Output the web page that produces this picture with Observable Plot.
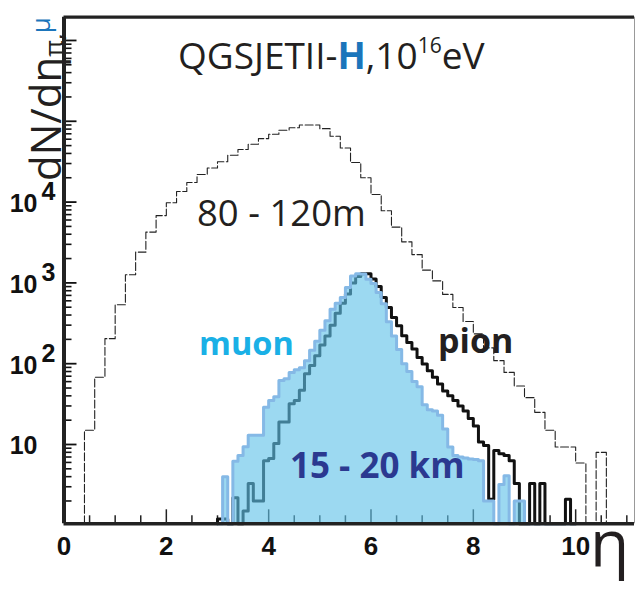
<!DOCTYPE html>
<html><head><meta charset="utf-8">
<script src="https://cdn.jsdelivr.net/npm/d3@7"></script>
<script src="https://cdn.jsdelivr.net/npm/@observablehq/plot@0.6"></script>
<style>
html,body{margin:0;padding:0;background:#fff;}
#chart{position:relative;width:635px;height:592px;}
svg{display:block;}
</style></head><body><div id="chart"></div>
<script>
// ---- data: 80-120 m (dashed), bins of 0.2 in eta starting at 0.4
const wideStart = 0.4;
const wideWidth = 0.2;
const wideValues = [15,68,204,537,1260,2400,4250,6800,9800,13500,17500,21900,26400,31600,38000,44700,52000,61000,69000,77500,83000,90000,90000,81000,65300,46700,30900,20000,12400,7800,4900,3220,2240,1440,1060,720,495,333,234,157,109,78,53,38,25,15,9.3,9.3,5.9,0,8];

// ---- data: 15-20 km, bins of 0.1 in eta starting at 3.0
const farStart = 3.0;
const farWidth = 0.1;
const muonValues = [0,4,0,6.2,7.3,9.4,13,13,13,29,35,39,62,65,78,84,89,109,147,190,260,339,473,560,659,875,1220,1300,1290,1110,980,760,550,330,220,150,100,80,60,52,31,27,26,23,15.5,9.3,7.3,7.0,6.8,6.6,6.5,6.3,2.0,2.0,0,3.2,4.1,0,2.0,2.0,0,0,0,0,0,0,0,0,0,0];
const pionValues = [1.2,1.2,0,2.2,0,1.5,3.3,2.0,2.0,6.3,6.7,10.3,19,19,32,35,47,75,95,125,170,220,300,420,560,730,1000,1200,1300,1300,1120,900,660,495,372,295,222,183,152,119,99,82,68,56,46,40,35,30,26,21,17,10.7,9.7,2.1,8.4,7.7,7.3,6.3,3.3,0,0,3.3,0,3.3,0,0,0,0,2.1,0];

// ---- ticks and labels
const xLabelTicks = [0, 2, 4, 6, 8, 10];
const xMajorTicks = [2, 4, 6, 8, 10];
const xMinorTicks = d3.range(0.5, 11.01, 0.5).filter(v => v % 2 !== 0);
const yDecades = [10, 100, 1000, 10000, 100000, 1000000];
const yLabelTicks = [10, 100, 1000, 10000];
const yMinorTicks = d3.range(0, 6).flatMap(k => d3.range(2, 10).map(m => m * 10 ** k)).filter(v => v > 1.05 && v < 1.9e6);

const W = 635, H = 592, mL = 63.5, mR = 1, mT = 16.7, mB = 68.7;
const xDomain = [0, 11.15];
const yDomain = [10 ** 0.0186, 10 ** 6.288];
const yFloor = yDomain[0];

// scales (used to size the inner tick marks)
const xs = Plot.scale({x: {domain: xDomain, range: [mL, W - mR]}});
const ys = Plot.scale({y: {type: "log", domain: yDomain, range: [H - mB, mT]}});
const xTickMinorEnd = xs.invert(mL + 8);
const xTickMajorEnd = xs.invert(mL + 13);
const yTickMinorEnd = ys.invert(H - mB - 8);
const yTickMajorEnd = ys.invert(H - mB - 14);

function histPoints(start, width, values) {
  const pts = [{x: start, y: yFloor}];
  values.forEach((v, i) => pts.push({x: start + i * width, y: Math.max(v, yFloor)}));
  const end = start + values.length * width;
  pts.push({x: end, y: Math.max(values[values.length - 1], yFloor)});
  pts.push({x: end, y: yFloor});
  return pts;
}
const widePts = histPoints(wideStart, wideWidth, wideValues);
const muonPts = histPoints(farStart, farWidth, muonValues);
const pionPts = histPoints(farStart, farWidth, pionValues);

const tickFont = "Liberation Sans, Arial, sans-serif";

const chart = Plot.plot({
  width: W, height: H,
  marginLeft: mL, marginRight: mR, marginTop: mT, marginBottom: mB,
  x: {domain: xDomain, axis: null},
  y: {type: "log", domain: yDomain, axis: null},
  style: {background: "transparent", overflow: "visible"},
  marks: [
    // inner ticks
    Plot.ruleX(xMinorTicks, {x: d => d, y1: yFloor, y2: yTickMinorEnd, stroke: "#222", strokeWidth: 1.5}),
    Plot.ruleX(xMajorTicks, {x: d => d, y1: yFloor, y2: yTickMajorEnd, stroke: "#222", strokeWidth: 1.5}),
    Plot.ruleY(yMinorTicks, {y: d => d, x1: 0, x2: xTickMinorEnd, stroke: "#111", strokeWidth: 1.6}),
    Plot.ruleY(yDecades, {y: d => d, x1: 0, x2: xTickMajorEnd, stroke: "#111", strokeWidth: 1.8}),
    // 80-120 m dashed histogram
    Plot.line(widePts, {x: "x", y: "y", curve: "step-after", stroke: "#222", strokeWidth: 1.1, strokeDasharray: "8,2.5"}),
    // pion 15-20 km
    Plot.line(pionPts, {x: "x", y: "y", curve: "step-after", stroke: "#111", strokeWidth: 3}),
    // muon 15-20 km
    Plot.areaY(muonPts, {x: "x", y1: yFloor, y2: "y", curve: "step-after", fill: "#5fc2e8", fillOpacity: 0.62}),
    Plot.line(muonPts, {x: "x", y: "y", curve: "step-after", stroke: "#85b9e6", strokeWidth: 3}),
    // frame
    Plot.ruleX([xDomain[1]], {stroke: "#999", strokeWidth: 1}),
    Plot.ruleY([yDomain[1]], {stroke: "#222", strokeWidth: 3.3}),
    Plot.ruleY([yFloor], {stroke: "#222", strokeWidth: 3.5}),
    Plot.ruleX([0], {stroke: "#222", strokeWidth: 4}),
    // tick labels
    Plot.text(xLabelTicks, {x: d => d, text: d => String(d), frameAnchor: "bottom", dy: 31, fontSize: 26, fontWeight: "bold", fontFamily: tickFont, fill: "#111"}),
    Plot.text(yLabelTicks, {y: d => d, text: () => "10", frameAnchor: "left", textAnchor: "end", dx: -26.5, dy: 2, fontSize: 25, fontWeight: "bold", fontFamily: tickFont, fill: "#111"}),
    Plot.text(yLabelTicks.filter(d => d > 10), {y: d => d, text: d => String(Math.round(Math.log10(d))), frameAnchor: "left", textAnchor: "start", dx: -22.5, dy: -10, fontSize: 25, fontWeight: "bold", fontFamily: tickFont, fill: "#111"})
  ]
});
document.getElementById("chart").appendChild(chart);

// ---- rich annotations
const svg = d3.select(chart);
const sans = "Open Sans, sans-serif";
function rich(x, y, size, weight, fill, parts, rotate) {
  const t = svg.append("text")
    .attr("text-anchor", "start")
    .attr("transform", rotate ? `translate(${x},${y}) rotate(${rotate})` : null)
    .attr("x", rotate ? 0 : x).attr("y", rotate ? 0 : y)
    .attr("font-family", sans).attr("font-size", size)
    .attr("font-weight", weight).attr("fill", fill);
  parts.forEach(p => {
    const s = t.append("tspan").text(p.t);
    if (p.size) s.attr("font-size", p.size);
    if (p.weight) s.attr("font-weight", p.weight);
    if (p.fill) s.attr("fill", p.fill);
    if (p.dy) s.attr("dy", p.dy);
  });
  return t;
}
rich(178, 68.5, 37, 400, "#231f20", [
  {t: "QGSJETII-"}, {t: "H", weight: 700, fill: "#1b75bb"}, {t: ",10"},
  {t: "16", size: 21, dy: -16}, {t: "eV", dy: 16}
]);
rich(197, 226, 36.5, 400, "#231f20", [{t: "80 - 120m"}]);
rich(199, 355, 32.5, 700, "#1ab0e6", [{t: "muon"}]);
rich(438, 353, 34, 700, "#231f20", [{t: "pion"}]);
rich(290, 478, 35, 700, "#2b3990", [{t: "15 - 20 km"}]);
rich(590, 566, 64, 400, "#231f20", [{t: "η"}]);
rich(61, 181, 42, 400, "#231f20", [
  {t: "dN/dη"}, {t: "π,", size: 26, dy: 2}, {t: "μ", size: 26, dy: -13, fill: "#1b75bb"}
], -90);
</script>
</body></html>
